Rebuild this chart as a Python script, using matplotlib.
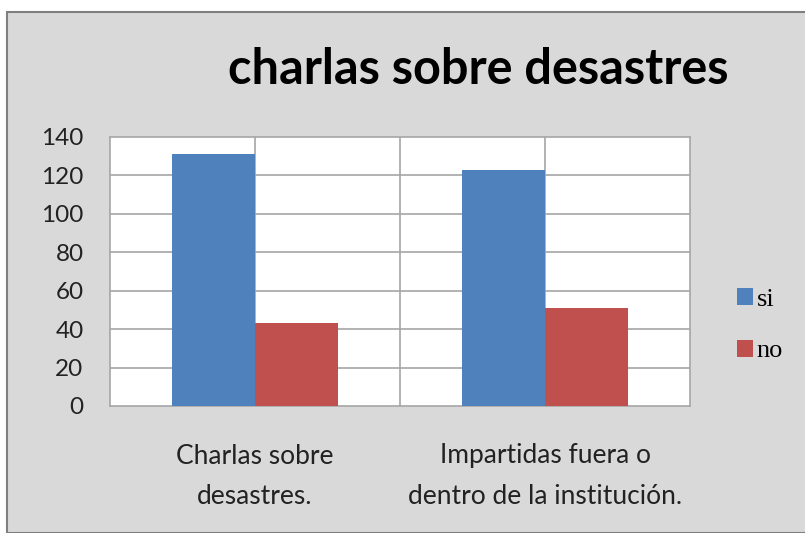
import matplotlib
matplotlib.use("Agg")
import matplotlib.pyplot as plt
import numpy as np
from matplotlib.patches import Rectangle

categories = ["Charlas sobre\ndesastres.", "Impartidas fuera o\ndentro de la institución."]
series_names = ["si", "no"]
si_values = [131, 123]
no_values = [43, 51]
y_ticks = [0, 20, 40, 60, 80, 100, 120, 140]

BLUE = "#4f81bd"
RED = "#c0504d"
BG = "#d9d9d9"
SANS = ["Lato", "DejaVu Sans"]

fig = plt.figure(figsize=(8.05, 5.33), dpi=100)
fig.patch.set_facecolor("white")
# grey chart area with its border, kept behind the axes
fig.patches.append(Rectangle((7 / 805, 0), 1.0, (533 - 12) / 533, transform=fig.transFigure,
                             facecolor=BG, edgecolor="#7f7f7f", lw=1.5, zorder=-10))

ax = fig.add_axes([110 / 805, (533 - 406) / 533, 580 / 805, 269 / 533])
ax.set_facecolor("white")

x = np.arange(len(categories))
w = 0.286
ax.bar(x - w / 2, si_values, w, color=BLUE, label=series_names[0], zorder=3)
ax.bar(x + w / 2, no_values, w, color=RED, label=series_names[1], zorder=3)

ax.set_xlim(-0.5, 1.5)
ax.set_ylim(0, 140)
ax.set_yticks(y_ticks)
ax.set_yticklabels([str(v) for v in y_ticks], family=SANS, fontsize=17.5, color="#222222")
ax.set_xticks(x)
ax.set_xticklabels(categories, family=SANS, fontsize=19, color="#222222", linespacing=1.75)
ax.tick_params(axis="y", length=0, pad=19)
ax.tick_params(axis="x", length=0, pad=27)

for v in y_ticks[1:-1]:
    ax.axhline(v, color="#a6a6a6", lw=1.2, zorder=1)
for xv in [0, 0.5, 1]:
    ax.axvline(xv, color="#a6a6a6", lw=1.2, zorder=1)
for s in ax.spines.values():
    s.set_color("#a6a6a6")
    s.set_linewidth(1.2)

fig.text(478 / 805, 1 - 70 / 533, "charlas sobre desastres", family=SANS, fontsize=35,
         fontweight="bold", ha="center", va="center", color="black")

ax.legend(loc="center left", bbox_to_anchor=(1.04, 0.3), frameon=False,
          prop={"family": ["Liberation Serif"], "size": 19}, handlelength=0.6,
          handleheight=0.6, handletextpad=0.15, labelspacing=1.1)

fig.savefig("out.png", dpi=100)
